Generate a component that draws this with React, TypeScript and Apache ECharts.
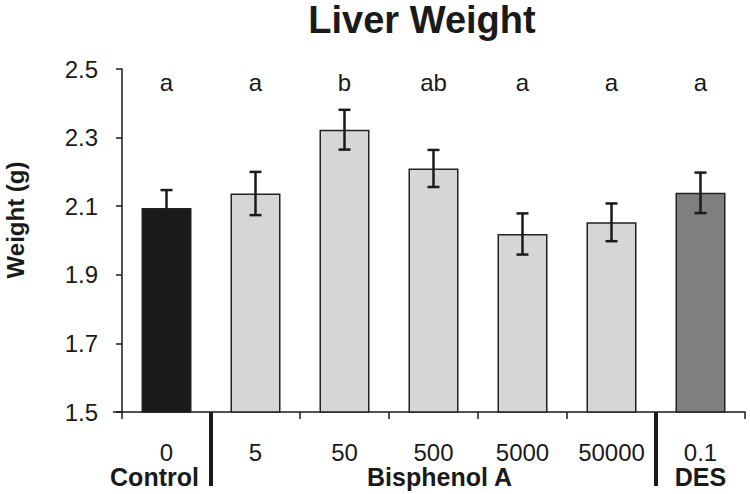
import React, { useEffect, useRef } from "react";
import * as echarts from "echarts";

const categories = ["0", "5", "50", "500", "5000", "50000", "0.1"];
const weights = [2.095, 2.137, 2.323, 2.21, 2.019, 2.053, 2.139];
const errors = [0.052, 0.063, 0.058, 0.054, 0.06, 0.055, 0.059];
const letters = ["a", "a", "b", "ab", "a", "a", "a"];
const barColors = ["#1a1a1a", "#d6d6d6", "#d6d6d6", "#d6d6d6", "#d6d6d6", "#d6d6d6", "#7f7f7f"];
const groupNames = ["Control", "Bisphenol A", "DES"];
const yTicks = [1.5, 1.7, 1.9, 2.1, 2.3, 2.5];

const FONT = "'Liberation Sans', Arial, Helvetica, sans-serif";
const INK = "#1a1a1a";

export default function App() {
  const ref = useRef<HTMLDivElement>(null);

  useEffect(() => {
    if (!ref.current) return;
    const chart = echarts.init(ref.current, undefined, { renderer: "svg" });

    const gridLeft = 122;
    const gridTop = 69;
    const gridWidth = 623;
    const gridHeight = 343;
    const catW = gridWidth / categories.length;
    const axisY = gridTop + gridHeight;
    const sepX1 = gridLeft + catW;
    const sepX2 = gridLeft + 6 * catW;

    const groupText = (text: string, x: number) => ({
      type: "text",
      x,
      y: 477,
      style: {
        text,
        fill: INK,
        font: `bold 25px ${FONT}`,
        lineHeight: 20,
        textAlign: "center",
        textVerticalAlign: "middle",
      },
    });

    chart.setOption({
      animation: false,
      grid: { left: gridLeft, top: gridTop, width: gridWidth, height: gridHeight },
      xAxis: {
        type: "category",
        data: categories,
        axisLine: { lineStyle: { color: INK, width: 1.5 } },
        axisTick: { show: true, length: 7, lineStyle: { color: INK, width: 1.5 } },
        axisLabel: {
          color: INK,
          fontSize: 24,
          fontFamily: FONT,
          lineHeight: 20,
          margin: 30,
          interval: 0,
        },
      },
      yAxis: {
        type: "value",
        min: yTicks[0],
        max: yTicks[yTicks.length - 1],
        interval: 0.2,
        splitLine: { show: false },
        axisLine: { show: true, lineStyle: { color: INK, width: 1.5 } },
        axisTick: { show: true, length: 6, lineStyle: { color: INK, width: 1.5 } },
        axisLabel: {
          color: INK,
          fontSize: 24,
          fontFamily: FONT,
          margin: 24,
          formatter: (v: number) => v.toFixed(1),
        },
      },
      series: [
        {
          type: "bar",
          barWidth: 50,
          data: weights.map((w, i) => ({
            value: w,
            itemStyle: { color: barColors[i], borderColor: "#222", borderWidth: 1.5 },
          })),
          z: 2,
        },
        {
          type: "custom",
          z: 3,
          data: weights.map((w, i) => [i, w, errors[i]]),
          renderItem: (params: any, api: any) => {
            const i = api.value(0);
            const v = api.value(1);
            const e = api.value(2);
            const top = api.coord([i, v + e]);
            const bot = api.coord([i, v - e]);
            const cap = 6;
            const style = { stroke: INK, lineWidth: 2.5 };
            return {
              type: "group",
              children: [
                { type: "line", shape: { x1: top[0], y1: top[1], x2: bot[0], y2: bot[1] }, style },
                { type: "line", shape: { x1: top[0] - cap, y1: top[1], x2: top[0] + cap, y2: top[1] }, style },
                { type: "line", shape: { x1: bot[0] - cap, y1: bot[1], x2: bot[0] + cap, y2: bot[1] }, style },
              ],
            };
          },
        },
        {
          type: "scatter",
          symbolSize: 0,
          z: 4,
          itemStyle: { opacity: 1 },
          data: letters.map((l, i) => [i, yTicks[yTicks.length - 1]]),
          label: {
            show: true,
            position: "inside",
            offset: [0, 13],
            color: INK,
            fontSize: 24,
            fontFamily: FONT,
            formatter: (p: any) => letters[p.dataIndex],
          },
        },
      ],
      graphic: [
        {
          type: "text",
          x: 422,
          y: 20,
          style: {
            text: "Liver Weight",
            fill: INK,
            font: `bold 38px ${FONT}`,
            lineHeight: 34,
            textAlign: "center",
            textVerticalAlign: "middle",
          },
        },
        {
          type: "text",
          x: 15,
          y: 220,
          rotation: Math.PI / 2,
          style: {
            text: "Weight (g)",
            fill: INK,
            font: `bold 24px ${FONT}`,
            textAlign: "center",
            textVerticalAlign: "middle",
          },
        },
        {
          type: "line",
          shape: { x1: 113, y1: axisY, x2: gridLeft, y2: axisY },
          style: { stroke: INK, lineWidth: 1.5 },
        },
        {
          type: "line",
          shape: { x1: sepX1, y1: axisY, x2: sepX1, y2: 486 },
          style: { stroke: INK, lineWidth: 4 },
          z: 10,
        },
        {
          type: "line",
          shape: { x1: sepX2, y1: axisY, x2: sepX2, y2: 486 },
          style: { stroke: INK, lineWidth: 4 },
          z: 10,
        },
        groupText(groupNames[0], gridLeft + catW / 2 - 12),
        groupText(groupNames[1], gridLeft + 3.5 * catW + 6),
        groupText(groupNames[2], gridLeft + 6.5 * catW),
      ],
    });

    return () => chart.dispose();
  }, []);

  return (
    <div
      ref={ref}
      style={{ position: "fixed", left: 0, top: 0, width: 750, height: 494, background: "#fff" }}
    />
  );
}
